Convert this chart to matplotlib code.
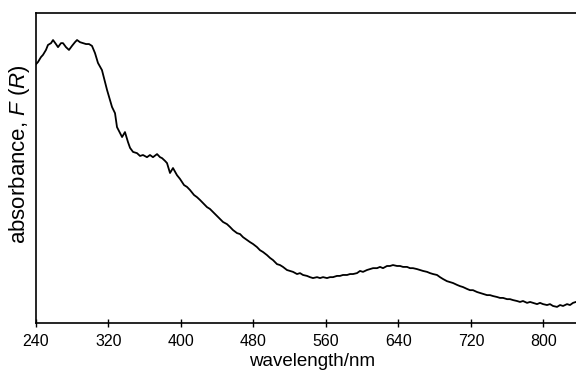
import matplotlib
matplotlib.use("Agg")
import matplotlib.pyplot as plt

plt.rcParams['font.family'] = ['Liberation Sans', 'DejaVu Sans']
plt.rcParams['mathtext.fontset'] = 'custom'
plt.rcParams['mathtext.rm'] = 'Liberation Sans'
plt.rcParams['mathtext.it'] = 'Liberation Sans:italic'

# wavelength (nm)
wavelength = [240, 242.2, 245.5, 247.7, 251, 253.2, 256.6, 258.8, 262, 264.3,
              267.6, 269.8, 273.1, 276.4, 279.7, 283, 285.3, 288.6, 291.9, 295.2,
              298.5, 301.8, 305.1, 308.4, 312.8, 316.2, 318.4, 321.7, 323.9, 327.2,
              329.4, 332.7, 335, 338.2, 341.5, 343.8, 347.1, 351.5, 354.8, 358.1,
              362.5, 365.8, 369.1, 373.6, 376.9, 379.1, 382.4, 384.6, 387.9, 391.2,
              395.6, 398.9, 403.4, 406.7, 410, 414.4, 417.7, 421, 425.4, 428.7,
              432, 435.4, 439.8, 443.1, 446.4, 450.8, 454.1, 457.4, 461.9, 465.2,
              468.5, 472.9, 476.2, 479.5, 483.9, 487.2, 490.6, 495, 498.3, 501.6,
              506, 509.3, 512.6, 517, 520.4, 523.7, 528.1, 531.4, 534.7, 539.1,
              542.4, 545.7, 550.2, 553.5, 556.8, 561.2, 564.5, 567.8, 572.2, 575.5,
              578.8, 583.3, 586.6, 589.9, 594.3, 597.6, 600.9, 605.3, 608.7, 612,
              616.4, 619.7, 623, 627.4, 630.7, 634, 638.5, 641.8, 645.1, 649.5,
              652.8, 656.1, 660.5, 663.8, 667.2, 671.6, 674.9, 678.2, 682.6, 685.9,
              689.2, 693.6, 697, 700.3, 704.7, 708, 711.3, 715.7, 719, 722.3,
              726.8, 730.1, 733.4, 737.8, 741.1, 744.4, 748.8, 752.1, 755.5, 759.9,
              763.2, 766.5, 770.9, 774.2, 777.5, 782, 785.3, 788.6, 793, 796.3,
              799.6, 804, 807.3, 810.6, 815.1, 818.4, 821.7, 826.1, 829.4, 832.7,
              836]

# absorbance F(R), arbitrary units
absorbance = [0.835, 0.842, 0.858, 0.865, 0.881, 0.897, 0.903, 0.913, 0.900, 0.890,
              0.903, 0.903, 0.890, 0.881, 0.894, 0.906, 0.913, 0.906, 0.903, 0.900,
              0.900, 0.894, 0.871, 0.839, 0.816, 0.777, 0.752, 0.719, 0.697, 0.677,
              0.632, 0.613, 0.600, 0.616, 0.584, 0.565, 0.552, 0.548, 0.539, 0.542,
              0.535, 0.542, 0.535, 0.545, 0.535, 0.532, 0.523, 0.516, 0.484, 0.500,
              0.477, 0.465, 0.445, 0.439, 0.429, 0.413, 0.406, 0.397, 0.384, 0.374,
              0.368, 0.358, 0.345, 0.335, 0.326, 0.319, 0.310, 0.300, 0.290, 0.287,
              0.277, 0.268, 0.261, 0.255, 0.245, 0.235, 0.229, 0.219, 0.210, 0.203,
              0.190, 0.187, 0.181, 0.171, 0.168, 0.165, 0.158, 0.161, 0.155, 0.152,
              0.148, 0.145, 0.148, 0.145, 0.148, 0.145, 0.148, 0.148, 0.152, 0.152,
              0.155, 0.155, 0.158, 0.158, 0.161, 0.168, 0.165, 0.171, 0.174, 0.177,
              0.177, 0.181, 0.177, 0.184, 0.184, 0.187, 0.184, 0.184, 0.181, 0.181,
              0.177, 0.177, 0.174, 0.171, 0.168, 0.165, 0.161, 0.158, 0.155, 0.148,
              0.142, 0.135, 0.132, 0.129, 0.123, 0.119, 0.116, 0.110, 0.106, 0.106,
              0.100, 0.097, 0.094, 0.090, 0.090, 0.087, 0.084, 0.081, 0.081, 0.077,
              0.077, 0.074, 0.071, 0.068, 0.071, 0.065, 0.068, 0.065, 0.061, 0.065,
              0.061, 0.058, 0.061, 0.055, 0.052, 0.058, 0.055, 0.061, 0.058, 0.065,
              0.068]

xticks = [240, 320, 400, 480, 560, 640, 720, 800]

fig = plt.figure(figsize=(5.76, 3.73), dpi=100)
ax = fig.add_axes([0.0625, 0.134, 0.9375, 0.831])

ax.plot(wavelength, absorbance, color="black", linewidth=1.3)

ax.set_xlim(240, 836)
ax.set_ylim(0, 1)
ax.set_xticks(xticks)
ax.set_yticks([])
ax.tick_params(axis="x", direction="inout", length=6, width=1, labelsize=11.5, pad=5)
ax.spines["right"].set_visible(False)
for s in ["left", "bottom", "top"]:
    ax.spines[s].set_linewidth(1.2)

ax.set_xlabel("wavelength/nm", fontsize=13.5)
ax.xaxis.set_label_coords(0.511, -0.098)
ax.set_ylabel(r"absorbance, $F\ (R)$", fontsize=16)
ax.yaxis.set_label_coords(-0.008, 0.545)

fig.savefig("out.png", dpi=100)
